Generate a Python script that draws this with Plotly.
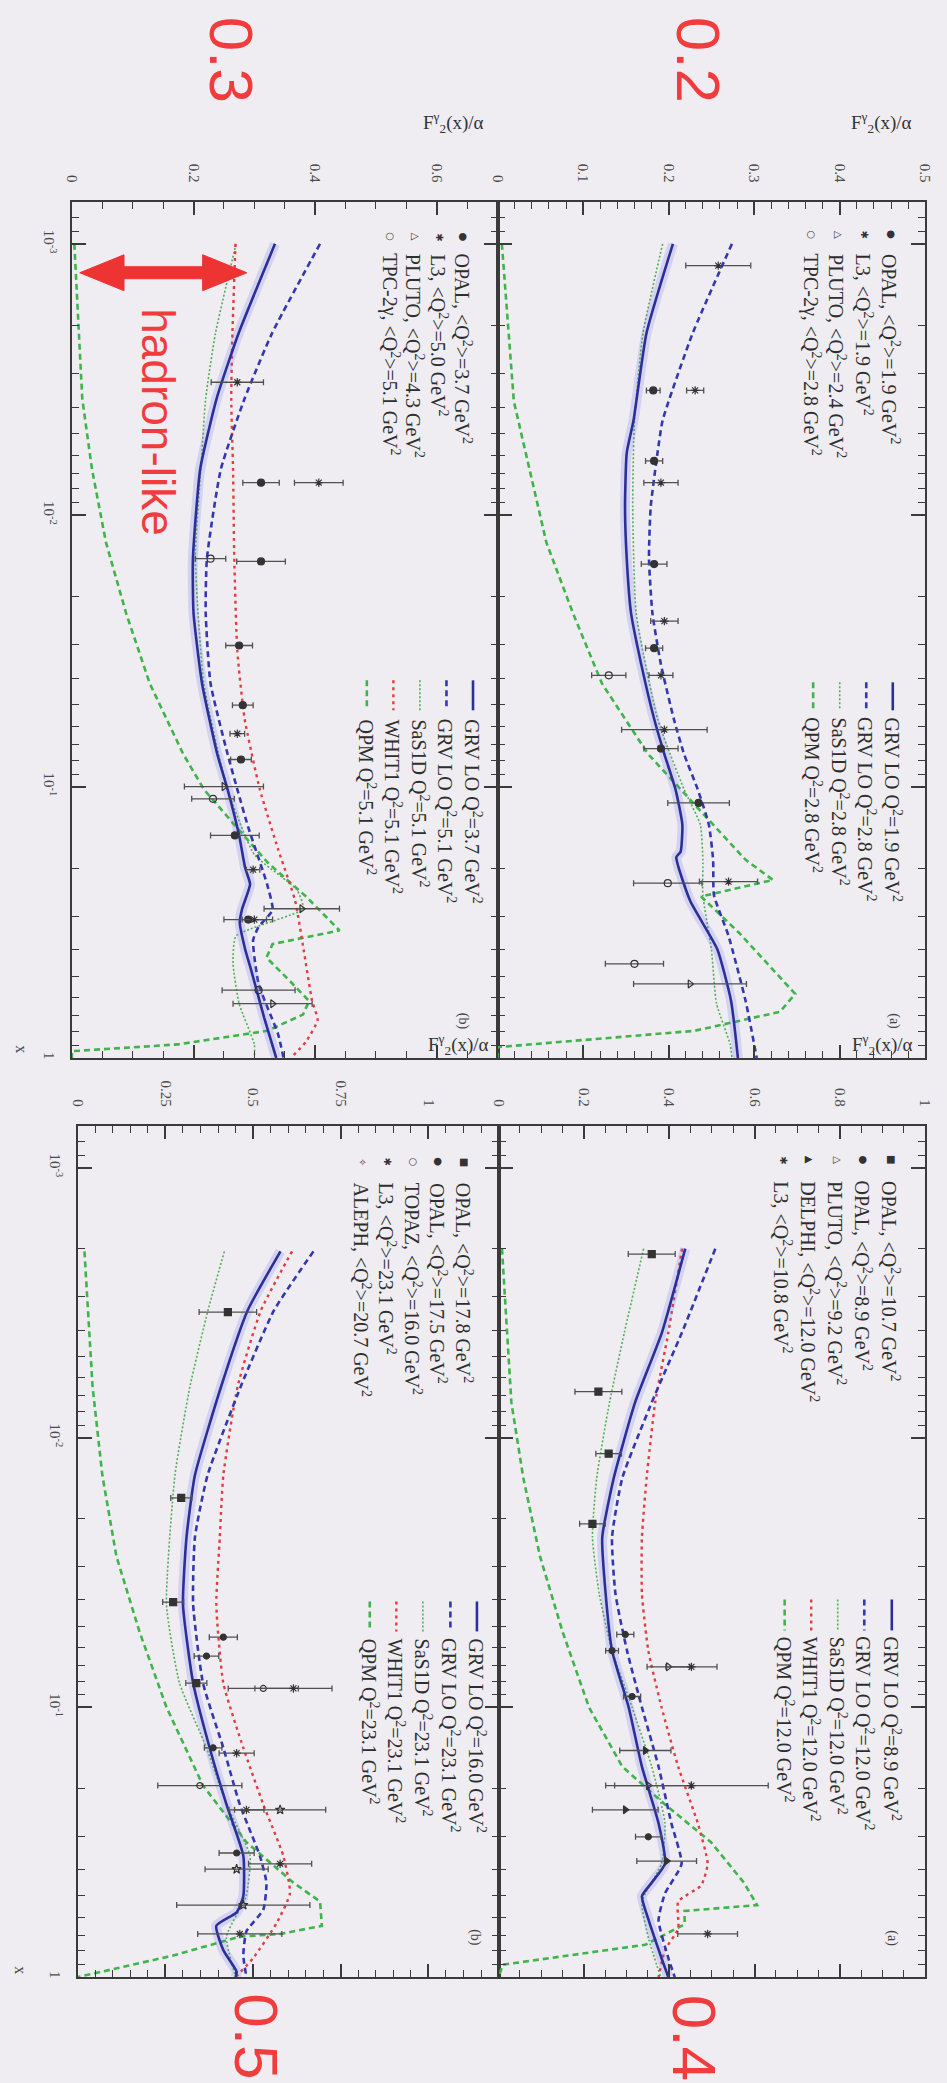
import plotly.graph_objects as go

W, H = 947, 2083
BG = "#efedf2"
FRAME = "#3a3a3a"
BLUE = "#2c2f96"
BLUE2 = "#3338b0"
RED = "#e23c3c"
GDOT = "#52ad55"
GDASH = "#3fb44a"
PT = "#333333"
REDLAB = "#f03c3c"

# ---------------- top-left panel  (label 0.3, panel b) ----------------
tl_grv37_log10x = [-3.0, -2.67, -2.43, -2.17, -1.84, -1.64, -1.38, -1.12, -0.99, -0.82, -0.70, -0.64, -0.55, -0.50, -0.40, -0.33, -0.15, 0.0]
tl_grv37_f2 = [0.334, 0.274, 0.238, 0.211, 0.199, 0.200, 0.214, 0.239, 0.256, 0.275, 0.285, 0.293, 0.280, 0.276, 0.285, 0.294, 0.316, 0.336]
tl_grv51_log10x = [-3.0, -2.67, -2.43, -2.17, -1.84, -1.64, -1.38, -1.12, -0.99, -0.85, -0.64, -0.545, -0.483, -0.434, -0.273, -0.088, 0.0]
tl_grv51_f2 = [0.408, 0.329, 0.284, 0.245, 0.222, 0.220, 0.228, 0.256, 0.272, 0.290, 0.321, 0.330, 0.307, 0.298, 0.307, 0.339, 0.348]
tl_whit_log10x = [-3.0, -2.67, -2.43, -2.17, -1.84, -1.5, -1.25, -0.99, -0.77, -0.58, -0.40, -0.21, -0.14, -0.06, 0.0]
tl_whit_f2 = [0.269, 0.264, 0.262, 0.265, 0.267, 0.272, 0.284, 0.309, 0.339, 0.367, 0.381, 0.395, 0.404, 0.385, 0.360]
tl_sasd_log10x = [-3.0, -2.67, -2.43, -2.17, -1.84, -1.38, -0.99, -0.75, -0.62, -0.55, -0.45, -0.35, -0.20, -0.05, 0.0]
tl_sasd_f2 = [0.270, 0.236, 0.220, 0.212, 0.203, 0.217, 0.256, 0.300, 0.370, 0.380, 0.270, 0.265, 0.275, 0.300, 0.300]
tl_qpm_log10x = [-3.0, -2.43, -2.17, -1.9, -1.64, -1.38, -1.12, -0.99, -0.86, -0.72, -0.595, -0.47, -0.42, -0.37, -0.28, -0.21, -0.16, -0.10, -0.05, -0.025, 0.0]
tl_qpm_f2 = [0.004, 0.017, 0.033, 0.056, 0.089, 0.128, 0.183, 0.217, 0.267, 0.322, 0.385, 0.440, 0.330, 0.320, 0.360, 0.390, 0.380, 0.321, 0.174, 0.0, 0.0]

tl_opal_log10x = [-2.12, -1.83, -1.52, -1.30, -1.10, -0.82, -0.51]
tl_opal_f2 = [0.311, 0.311, 0.275, 0.281, 0.278, 0.268, 0.290]
tl_opal_err = [0.030, 0.040, 0.022, 0.017, 0.017, 0.040, 0.040]
tl_l3_log10x = [-2.49, -2.12, -1.195, -0.694, -0.51]
tl_l3_f2 = [0.272, 0.406, 0.272, 0.298, 0.300]
tl_l3_err = [0.043, 0.040, 0.012, 0.011, 0.020]
tl_pluto_log10x = [-1.0, -0.55, -0.2]
tl_pluto_f2 = [0.250, 0.378, 0.330]
tl_pluto_err = [0.065, 0.062, 0.065]
tl_tpc_log10x = [-1.84, -0.955, -0.25]
tl_tpc_f2 = [0.228, 0.232, 0.307]
tl_tpc_err = [0.025, 0.035, 0.060]

# ---------------- top-right panel (label 0.2, panel a) ----------------
tr_grv19_log10x = [-3.0, -2.67, -2.35, -2.23, -2.03, -1.84, -1.64, -1.45, -1.25, -1.12, -0.99, -0.86, -0.76, -0.74, -0.58, -0.40, -0.21, 0.0]
tr_grv19_f2 = [0.205, 0.174, 0.159, 0.151, 0.149, 0.151, 0.156, 0.168, 0.183, 0.195, 0.208, 0.216, 0.214, 0.209, 0.225, 0.257, 0.273, 0.281]
tr_grv28_log10x = [-3.0, -2.67, -2.35, -2.23, -2.03, -1.84, -1.64, -1.45, -1.25, -1.12, -0.99, -0.86, -0.73, -0.60, -0.45, -0.21, 0.0]
tr_grv28_f2 = [0.274, 0.228, 0.193, 0.187, 0.179, 0.177, 0.181, 0.191, 0.206, 0.218, 0.234, 0.247, 0.252, 0.253, 0.270, 0.290, 0.303]
tr_sasd_log10x = [-3.0, -2.67, -2.35, -2.03, -1.64, -1.25, -0.99, -0.86, -0.73, -0.60, -0.40, -0.20, -0.05, 0.0]
tr_sasd_f2 = [0.193, 0.170, 0.160, 0.158, 0.162, 0.187, 0.218, 0.237, 0.240, 0.240, 0.250, 0.256, 0.272, 0.274]
tr_qpm_log10x = [-3.0, -2.42, -2.16, -1.9, -1.64, -1.38, -1.25, -1.12, -0.99, -0.86, -0.73, -0.656, -0.595, -0.459, -0.236, -0.17, -0.10, -0.04, 0.0]
tr_qpm_f2 = [0.005, 0.019, 0.038, 0.057, 0.088, 0.122, 0.149, 0.176, 0.214, 0.252, 0.290, 0.322, 0.238, 0.283, 0.348, 0.330, 0.230, 0.0, 0.0]

tr_opal_log10x = [-2.46, -2.2, -1.82, -1.51, -1.14, -0.94]
tr_opal_f2 = [0.182, 0.183, 0.183, 0.183, 0.191, 0.235]
tr_opal_err = [0.008, 0.010, 0.015, 0.010, 0.020, 0.036]
tr_l3_log10x = [-2.92, -2.46, -2.12, -1.61, -1.41, -1.21, -0.65]
tr_l3_f2 = [0.258, 0.231, 0.191, 0.195, 0.191, 0.195, 0.270]
tr_l3_err = [0.038, 0.010, 0.020, 0.016, 0.014, 0.050, 0.034]
tr_pluto_log10x = [-0.273]
tr_pluto_f2 = [0.225]
tr_pluto_err = [0.066]
tr_tpc_log10x = [-1.41, -0.644, -0.347]
tr_tpc_f2 = [0.130, 0.199, 0.160]
tr_tpc_err = [0.020, 0.040, 0.034]

# ---------------- bottom-left panel (label 0.5, panel b) ----------------
bl_grv160_log10x = [-2.69, -2.47, -2.19, -1.86, -1.63, -1.38, -1.09, -0.85, -0.64, -0.45, -0.30, -0.24, -0.19, -0.10, -0.02, 0.0]
bl_grv160_f2 = [0.578, 0.484, 0.409, 0.334, 0.310, 0.300, 0.329, 0.376, 0.424, 0.472, 0.472, 0.453, 0.395, 0.415, 0.453, 0.450]
bl_grv231_log10x = [-2.69, -2.47, -2.19, -1.86, -1.63, -1.38, -1.09, -0.85, -0.64, -0.45, -0.35, -0.25, -0.17, -0.08, 0.0]
bl_grv231_f2 = [0.672, 0.559, 0.465, 0.370, 0.334, 0.329, 0.357, 0.415, 0.462, 0.519, 0.538, 0.529, 0.481, 0.472, 0.481]
bl_whit_log10x = [-2.69, -2.47, -2.19, -1.86, -1.63, -1.38, -1.09, -0.85, -0.64, -0.45, -0.31, -0.20, -0.07, 0.0]
bl_whit_f2 = [0.611, 0.522, 0.456, 0.415, 0.405, 0.395, 0.415, 0.472, 0.529, 0.586, 0.605, 0.567, 0.500, 0.450]
bl_sasd_log10x = [-2.69, -2.47, -2.19, -1.86, -1.38, -1.09, -0.85, -0.64, -0.45, -0.30, -0.15, 0.0]
bl_sasd_f2 = [0.418, 0.371, 0.320, 0.277, 0.253, 0.290, 0.367, 0.424, 0.491, 0.480, 0.424, 0.450]
bl_qpm_log10x = [-2.69, -2.19, -1.86, -1.56, -1.28, -1.0, -0.71, -0.50, -0.35, -0.28, -0.19, -0.16, -0.15, -0.08, 0.0]
bl_qpm_f2 = [0.019, 0.042, 0.070, 0.110, 0.176, 0.253, 0.357, 0.481, 0.615, 0.691, 0.696, 0.577, 0.462, 0.272, 0.0]

bl_opal178_log10x = [-2.465, -1.776, -1.39, -1.09]
bl_opal178_f2 = [0.428, 0.295, 0.272, 0.338]
bl_opal178_err = [0.082, 0.030, 0.030, 0.030]
bl_opal175_log10x = [-1.26, -1.19, -0.85, -0.46]
bl_opal175_f2 = [0.415, 0.367, 0.386, 0.453]
bl_opal175_err = [0.040, 0.035, 0.025, 0.050]
bl_topaz_log10x = [-1.07, -0.71]
bl_topaz_f2 = [0.529, 0.348]
bl_topaz_err = [0.100, 0.120]
bl_l3_log10x = [-1.07, -0.83, -0.62, -0.42, -0.16]
bl_l3_f2 = [0.615, 0.453, 0.481, 0.577, 0.462]
bl_l3_err = [0.110, 0.050, 0.050, 0.090, 0.120]
bl_aleph_log10x = [-0.62, -0.40, -0.267]
bl_aleph_f2 = [0.577, 0.453, 0.472]
bl_aleph_err = [0.130, 0.090, 0.190]

# ---------------- bottom-right panel (label 0.4, panel a) ----------------
br_grv89_log10x = [-2.70, -2.39, -2.13, -1.85, -1.63, -1.42, -1.21, -1.0, -0.78, -0.57, -0.42, -0.35, -0.30, -0.21, -0.07, 0.0]
br_grv89_f2 = [0.4375, 0.383, 0.320, 0.270, 0.243, 0.251, 0.266, 0.305, 0.336, 0.375, 0.390, 0.359, 0.336, 0.352, 0.382, 0.398]
br_grv120_log10x = [-2.70, -2.39, -2.13, -1.85, -1.63, -1.42, -1.21, -1.0, -0.78, -0.57, -0.42, -0.31, -0.21, -0.07, 0.0]
br_grv120_f2 = [0.508, 0.430, 0.359, 0.290, 0.266, 0.274, 0.301, 0.336, 0.375, 0.405, 0.429, 0.390, 0.375, 0.398, 0.413]
br_whit_log10x = [-2.70, -2.39, -2.13, -1.85, -1.63, -1.42, -1.21, -1.0, -0.78, -0.57, -0.42, -0.34, -0.28, -0.18, -0.10, 0.0]
br_whit_f2 = [0.430, 0.398, 0.367, 0.347, 0.336, 0.336, 0.351, 0.382, 0.421, 0.467, 0.490, 0.475, 0.421, 0.421, 0.390, 0.375]
br_sasd_log10x = [-2.70, -2.39, -2.13, -1.85, -1.63, -1.42, -1.21, -1.0, -0.78, -0.57, -0.42, -0.28, -0.14, 0.0]
br_sasd_f2 = [0.340, 0.295, 0.260, 0.230, 0.220, 0.236, 0.266, 0.313, 0.359, 0.390, 0.382, 0.336, 0.352, 0.380]
br_qpm_log10x = [-2.70, -2.13, -1.85, -1.56, -1.28, -1.0, -0.78, -0.64, -0.50, -0.35, -0.267, -0.245, -0.196, -0.12, -0.046, 0.0]
br_qpm_f2 = [0.008, 0.030, 0.058, 0.097, 0.150, 0.212, 0.290, 0.390, 0.498, 0.575, 0.606, 0.436, 0.436, 0.344, 0.010, 0.0]

br_opal107_log10x = [-2.68, -2.17, -1.94, -1.68]
br_opal107_f2 = [0.359, 0.234, 0.258, 0.220]
br_opal107_err = [0.055, 0.055, 0.030, 0.030]
br_opal89_log10x = [-1.27, -1.21, -1.04, -0.52]
br_opal89_f2 = [0.297, 0.266, 0.313, 0.351]
br_opal89_err = [0.020, 0.015, 0.020, 0.030]
br_pluto_log10x = [-1.15, -0.71]
br_pluto_f2 = [0.398, 0.351]
br_pluto_err = [0.050, 0.100]
br_delphi_log10x = [-0.84, -0.62, -0.43]
br_delphi_f2 = [0.344, 0.297, 0.394]
br_delphi_err = [0.060, 0.077, 0.070]
br_l3_log10x = [-1.15, -0.71, -0.16]
br_l3_f2 = [0.452, 0.452, 0.490]
br_l3_err = [0.060, 0.180, 0.070]

# ---------------- axis ticks ----------------
LOG_TICKVALS = [1e-3, 1e-2, 1e-1, 1.0]
LOG_TICKTEXT = ["10<sup>-3</sup>", "10<sup>-2</sup>", "10<sup>-1</sup>", "1"]
LOG_MINOR = [k * 10.0 ** e for e in (-4, -3, -2, -1) for k in range(2, 10)]

# line styles
STY = {
    "grv_a": dict(color=BLUE, width=2.6),
    "grv_b": dict(color=BLUE2, width=2.6, dash="6px,4px"),
    "sasd": dict(color=GDOT, width=1.6, dash="2px,2px"),
    "whit": dict(color=RED, width=2.4, dash="3px,4px"),
    "qpm": dict(color=GDASH, width=2.6, dash="6px,4px"),
}

fig = go.Figure()


def add_curve(lx, f2, key, xa, ya, halo=False):
    xs = [10.0 ** v for v in lx]
    shape = "linear" if key == "qpm" else "spline"
    if halo:
        fig.add_trace(go.Scatter(x=f2, y=xs, mode="lines", xaxis=xa, yaxis=ya,
                                 line=dict(color="rgba(115,115,235,0.22)", width=10, shape=shape, smoothing=0.5),
                                 hoverinfo="skip"))
    ln = dict(STY[key])
    ln["shape"] = shape
    if shape == "spline":
        ln["smoothing"] = 0.5
    fig.add_trace(go.Scatter(x=f2, y=xs, mode="lines", xaxis=xa, yaxis=ya, line=ln, hoverinfo="skip"))


def add_points(lx, f2, err, symbol, xa, ya, size=7):
    xs = [10.0 ** v for v in lx]
    fig.add_trace(go.Scatter(x=f2, y=xs, mode="markers", xaxis=xa, yaxis=ya,
                             marker=dict(symbol=symbol, size=size, color=PT, line=dict(color=PT, width=1.2)),
                             error_x=dict(type="data", array=err, color="#505050", thickness=1.3, width=3)))


# TL
for lx, f2, k, h in [(tl_qpm_log10x, tl_qpm_f2, "qpm", False), (tl_sasd_log10x, tl_sasd_f2, "sasd", False),
                     (tl_whit_log10x, tl_whit_f2, "whit", False), (tl_grv51_log10x, tl_grv51_f2, "grv_b", False),
                     (tl_grv37_log10x, tl_grv37_f2, "grv_a", True)]:
    add_curve(lx, f2, k, "x", "y", h)
add_points(tl_opal_log10x, tl_opal_f2, tl_opal_err, "circle", "x", "y")
add_points(tl_l3_log10x, tl_l3_f2, tl_l3_err, "asterisk-open", "x", "y")
add_points(tl_pluto_log10x, tl_pluto_f2, tl_pluto_err, "triangle-right-open", "x", "y")
add_points(tl_tpc_log10x, tl_tpc_f2, tl_tpc_err, "circle-open", "x", "y")

# TR
for lx, f2, k, h in [(tr_qpm_log10x, tr_qpm_f2, "qpm", False), (tr_sasd_log10x, tr_sasd_f2, "sasd", False),
                     (tr_grv28_log10x, tr_grv28_f2, "grv_b", False), (tr_grv19_log10x, tr_grv19_f2, "grv_a", True)]:
    add_curve(lx, f2, k, "x2", "y2", h)
add_points(tr_opal_log10x, tr_opal_f2, tr_opal_err, "circle", "x2", "y2")
add_points(tr_l3_log10x, tr_l3_f2, tr_l3_err, "asterisk-open", "x2", "y2")
add_points(tr_pluto_log10x, tr_pluto_f2, tr_pluto_err, "triangle-right-open", "x2", "y2")
add_points(tr_tpc_log10x, tr_tpc_f2, tr_tpc_err, "circle-open", "x2", "y2")

# BL
for lx, f2, k, h in [(bl_qpm_log10x, bl_qpm_f2, "qpm", False), (bl_sasd_log10x, bl_sasd_f2, "sasd", False),
                     (bl_whit_log10x, bl_whit_f2, "whit", False), (bl_grv231_log10x, bl_grv231_f2, "grv_b", False),
                     (bl_grv160_log10x, bl_grv160_f2, "grv_a", True)]:
    add_curve(lx, f2, k, "x3", "y3", h)
add_points(bl_opal178_log10x, bl_opal178_f2, bl_opal178_err, "square", "x3", "y3")
add_points(bl_opal175_log10x, bl_opal175_f2, bl_opal175_err, "circle", "x3", "y3", 6)
add_points(bl_topaz_log10x, bl_topaz_f2, bl_topaz_err, "circle-open", "x3", "y3", 6)
add_points(bl_l3_log10x, bl_l3_f2, bl_l3_err, "asterisk-open", "x3", "y3")
add_points(bl_aleph_log10x, bl_aleph_f2, bl_aleph_err, "star-open", "x3", "y3")

# BR
for lx, f2, k, h in [(br_qpm_log10x, br_qpm_f2, "qpm", False), (br_sasd_log10x, br_sasd_f2, "sasd", False),
                     (br_whit_log10x, br_whit_f2, "whit", False), (br_grv120_log10x, br_grv120_f2, "grv_b", False),
                     (br_grv89_log10x, br_grv89_f2, "grv_a", True)]:
    add_curve(lx, f2, k, "x4", "y4", h)
add_points(br_opal107_log10x, br_opal107_f2, br_opal107_err, "square", "x4", "y4")
add_points(br_opal89_log10x, br_opal89_f2, br_opal89_err, "circle", "x4", "y4", 6)
add_points(br_pluto_log10x, br_pluto_f2, br_pluto_err, "triangle-right-open", "x4", "y4")
add_points(br_delphi_log10x, br_delphi_f2, br_delphi_err, "triangle-right", "x4", "y4")
add_points(br_l3_log10x, br_l3_f2, br_l3_err, "asterisk-open", "x4", "y4")


def px(v):
    return v / W


def py(v):
    return 1 - v / H


TICKFONT = dict(family="Liberation Serif", size=15, color="#4a4a4a")


def f2_axis(x0, x1, rng, dtick, mdtick, anchor):
    return dict(domain=[px(x0), px(x1)], range=rng, anchor=anchor, side="top",
                showline=True, linewidth=2, linecolor=FRAME, mirror="allticks",
                ticks="inside", ticklen=13, tickwidth=1.5, tickcolor=FRAME,
                dtick=dtick, tick0=0, tickangle=90, tickfont=TICKFONT, ticklabelstandoff=12,
                minor=dict(ticks="inside", ticklen=7, tickwidth=1, tickcolor=FRAME, dtick=mdtick, tick0=0),
                showgrid=False, zeroline=False)


def logx_axis(y0, y1, anchor, labels):
    return dict(domain=[py(y1), py(y0)], type="log", range=[0, -3.155], anchor=anchor,
                showline=True, linewidth=2, linecolor=FRAME, mirror="allticks",
                ticks="inside", ticklen=14, tickwidth=1.5, tickcolor=FRAME,
                tickmode="array", tickvals=LOG_TICKVALS, ticktext=LOG_TICKTEXT,
                showticklabels=labels, tickangle=90, tickfont=TICKFONT, ticklabelstandoff=8,
                minor=dict(ticks="inside", ticklen=7, tickwidth=1, tickcolor=FRAME,
                           tickmode="array", tickvals=LOG_MINOR),
                showgrid=False, zeroline=False)


fig.update_layout(
    width=W, height=H, margin=dict(l=0, r=0, t=0, b=0),
    paper_bgcolor=BG, plot_bgcolor=BG, showlegend=False,
    xaxis=f2_axis(65, 498, [0, 0.7], 0.2, 0.05, "y"),
    yaxis=logx_axis(202, 1059, "x", True),
    xaxis2=f2_axis(498, 933, [0, 0.5], 0.1, 0.02, "y2"),
    yaxis2=logx_axis(202, 1059, "x2", False),
    xaxis3=f2_axis(71, 499, [0, 1.2], 0.25, 0.05, "y3"),
    yaxis3=logx_axis(1127, 1979, "x3", True),
    xaxis4=f2_axis(499, 933, [0, 1.0], 0.2, 0.05, "y4"),
    yaxis4=logx_axis(1127, 1979, "x4", False),
)

ann = []
shapes = []
LEGFONT = dict(family="Liberation Serif", size=20, color="#2e2e2e")


def rot_text(x, y, text, font, yanchor="top"):
    ann.append(dict(x=px(x), y=py(y), xref="paper", yref="paper", text=text, showarrow=False,
                    textangle=90, xanchor="center", yanchor=yanchor, font=font))


def Q(v):
    return "&lt;Q<sup>2</sup>&gt;=" + v + " GeV<sup>2</sup>"


def Qc(v):
    return "Q<sup>2</sup>=" + v + " GeV<sup>2</sup>"


MK = {"circle": "●", "star": "✱", "tri": "△", "ocircle": "○", "square": "■", "ftri": "▲", "ostar": "✧"}

exp_legends = [
    # (columns x, marker y, text top, entries)
    ([463, 439, 414, 389], 237, 252, [("circle", "OPAL, " + Q("3.7")), ("star", "L3, " + Q("5.0")),
                                      ("tri", "PLUTO, " + Q("4.3")), ("ocircle", "TPC-2γ, " + Q("5.1"))]),
    ([898, 871, 844, 817], 235, 252, [("circle", "OPAL, " + Q("1.9")), ("star", "L3, " + Q("1.9")),
                                      ("tri", "PLUTO, " + Q("2.4")), ("ocircle", "TPC-2γ, " + Q("2.8"))]),
    ([464, 438, 412, 386, 360], 1163, 1182, [("square", "OPAL, " + Q("17.8")), ("circle", "OPAL, " + Q("17.5")),
                                             ("ocircle", "TOPAZ, " + Q("16.0")), ("star", "L3, " + Q("23.1")),
                                             ("ostar", "ALEPH, " + Q("20.7"))]),
    ([898, 870, 843, 815, 788], 1161, 1180, [("square", "OPAL, " + Q("10.7")), ("circle", "OPAL, " + Q("8.9")),
                                             ("tri", "PLUTO, " + Q("9.2")), ("ftri", "DELPHI, " + Q("12.0")),
                                             ("star", "L3, " + Q("10.8"))]),
]
for cols, my, ty, entries in exp_legends:
    for cx, (mk, txt) in zip(cols, entries):
        ann.append(dict(x=px(cx), y=py(my), xref="paper", yref="paper", text=MK[mk], showarrow=False,
                        textangle=90, xanchor="center", yanchor="middle",
                        font=dict(family="DejaVu Sans", size=10, color="#333333")))
        rot_text(cx, ty, txt, LEGFONT)

curve_legends = [
    ([473, 446, 419, 392, 365], 681, 711, 718, [("grv_a", "GRV LO " + Qc("3.7")), ("grv_b", "GRV LO " + Qc("5.1")),
                                                ("sasd", "SaS1D " + Qc("5.1")), ("whit", "WHIT1 " + Qc("5.1")),
                                                ("qpm", "QPM " + Qc("5.1"))]),
    ([900, 873, 846, 819], 683, 711, 716, [("grv_a", "GRV LO " + Qc("1.9")), ("grv_b", "GRV LO " + Qc("2.8")),
                                           ("sasd", "SaS1D " + Qc("2.8")), ("qpm", "QPM " + Qc("2.8"))]),
    ([477, 450, 422, 395, 368], 1603, 1633, 1638, [("grv_a", "GRV LO " + Qc("16.0")), ("grv_b", "GRV LO " + Qc("23.1")),
                                                   ("sasd", "SaS1D " + Qc("23.1")), ("whit", "WHIT1 " + Qc("23.1")),
                                                   ("qpm", "QPM " + Qc("23.1"))]),
    ([899, 871, 844, 817, 790], 1601, 1632, 1636, [("grv_a", "GRV LO " + Qc("8.9")), ("grv_b", "GRV LO " + Qc("12.0")),
                                                   ("sasd", "SaS1D " + Qc("12.0")), ("whit", "WHIT1 " + Qc("12.0")),
                                                   ("qpm", "QPM " + Qc("12.0"))]),
]
for cols, y0, y1, ty, entries in curve_legends:
    for cx, (key, txt) in zip(cols, entries):
        st = STY[key]
        shapes.append(dict(type="line", xref="paper", yref="paper", x0=px(cx), x1=px(cx), y0=py(y0), y1=py(y1),
                           line=dict(color=st["color"], width=st["width"], dash=st.get("dash", "solid"))))
        rot_text(cx, ty, txt, LEGFONT)

# F2 titles (horizontal)
TITLEFONT = dict(family="Liberation Serif", size=19, color="#333333")
for (cx, cy) in [(453, 123), (889, 123), (458, 1046), (890, 1046)]:
    ann.append(dict(x=px(cx), y=py(cy), xref="paper", yref="paper", text="F<sup>γ</sup><sub>2</sub>(x)/α",
                    showarrow=False, xanchor="center", yanchor="middle", font=TITLEFONT))

# panel letters and x-titles
SMALL = dict(family="Liberation Serif", size=14, color="#444444")
for (cx, cy, t) in [(463, 1022, "(b)"), (901, 1022, "(a)"), (475, 1940, "(b)"), (899, 1940, "(a)")]:
    rot_text(cx, cy, t, SMALL, "middle")
for (cx, cy) in [(13, 1050), (13, 1972)]:
    rot_text(cx, cy, "x", dict(family="Liberation Serif", size=16, color="#444444"), "middle")

# red markings
BIG = dict(family="Liberation Sans", size=62, color=REDLAB)
for (cx, cy, t) in [(227, 60, "0.3"), (702, 60, "0.2"), (253, 2038, "0.5"), (699, 2040, "0.4")]:
    rot_text(cx, cy, t, BIG, "middle")
rot_text(153, 423, "hadron-like", dict(family="Liberation Sans", size=46, color=REDLAB), "middle")

arrow_px = [(73, 273), (118, 255), (118, 267), (198, 267), (198, 255), (243, 273),
            (198, 291), (198, 279), (118, 279), (118, 291)]
path = "M " + " L ".join(f"{px(a):.5f},{py(b):.5f}" for a, b in arrow_px) + " Z"
shapes.append(dict(type="path", xref="paper", yref="paper", path=path,
                   fillcolor="#ee3333", line=dict(color="#ee3333", width=1)))

fig.update_layout(annotations=ann, shapes=shapes)
fig.write_html("out.html")
